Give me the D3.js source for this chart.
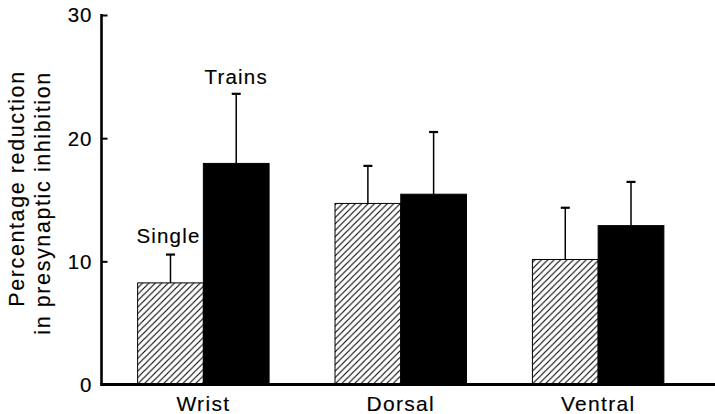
<!DOCTYPE html>
<html>
<head>
<meta charset="utf-8">
<script src="https://cdn.jsdelivr.net/npm/d3@7"></script>
<style>
  html, body { margin: 0; padding: 0; background: #fff; }
  svg { display: block; }
  text { font-family: "Liberation Sans", Arial, Helvetica, sans-serif; fill: #000; stroke: #000; stroke-width: 0.15px; }
</style>
</head>
<body>
<svg id="chart" width="715" height="414"></svg>
<script>
// Sites of conditioning stimulation
const categories = ["Wrist", "Dorsal", "Ventral"];
const seriesNames = ["Single", "Trains"];
// Mean percentage reduction and upper error (mean + s.e.m.)
const singleMeans = [8.25, 14.7, 10.15];
const singleErrTop = [10.55, 17.75, 14.35];
const trainsMeans = [17.95, 15.45, 12.9];
const trainsErrTop = [23.6, 20.5, 16.45];
const yTicks = [0, 10, 20, 30];

const svg = d3.select("#chart");
const W = 715, H = 414;
const plotLeft = 101.5, plotTop = 15, baseY = 384.5;

// Diagonal hatching for single-pulse bars
const defs = svg.append("defs");
const pat = defs.append("pattern")
  .attr("id", "hatch")
  .attr("patternUnits", "userSpaceOnUse")
  .attr("width", 6.4).attr("height", 6.4);
pat.append("path")
  .attr("d", "M-1.6,1.6 L1.6,-1.6 M0,6.4 L6.4,0 M4.8,8 L8,4.8")
  .attr("stroke", "#000").attr("stroke-width", 1.1);

const y = d3.scaleLinear().domain([0, 30]).range([baseY, plotTop]);

const x = d3.scaleBand()
  .domain(categories)
  .range([plotLeft, 700])
  .paddingInner(0.334)
  .paddingOuter(0.183);

const xs = d3.scaleBand()
  .domain(seriesNames)
  .range([0, x.bandwidth()]);

const rows = categories.map((c, i) => ({
  cat: c,
  vals: [
    { s: "Single", v: singleMeans[i], e: singleErrTop[i] },
    { s: "Trains", v: trainsMeans[i], e: trainsErrTop[i] }
  ]
}));

const groups = svg.append("g").selectAll("g")
  .data(rows).join("g")
  .attr("transform", d => `translate(${x(d.cat)},0)`);

// Error bars (upper half only)
groups.selectAll("line.err")
  .data(d => d.vals).join("line")
  .attr("class", "err")
  .attr("x1", d => xs(d.s) + xs.bandwidth() / 2)
  .attr("x2", d => xs(d.s) + xs.bandwidth() / 2)
  .attr("y1", d => y(d.v))
  .attr("y2", d => y(d.e))
  .attr("stroke", "#000").attr("stroke-width", 1.5);

groups.selectAll("line.cap")
  .data(d => d.vals).join("line")
  .attr("class", "cap")
  .attr("x1", d => xs(d.s) + xs.bandwidth() / 2 - 4.5)
  .attr("x2", d => xs(d.s) + xs.bandwidth() / 2 + 4.5)
  .attr("y1", d => y(d.e))
  .attr("y2", d => y(d.e))
  .attr("stroke", "#000").attr("stroke-width", 2.2);

// Bars
groups.selectAll("rect")
  .data(d => d.vals).join("rect")
  .attr("x", d => xs(d.s))
  .attr("width", xs.bandwidth())
  .attr("y", d => y(d.v))
  .attr("height", d => baseY - y(d.v))
  .attr("fill", d => d.s === "Single" ? "url(#hatch)" : "#000")
  .attr("stroke", "#000")
  .attr("stroke-width", 1);

// Series labels above the wrist bars
svg.append("text")
  .attr("x", x("Wrist") + xs("Single") + xs.bandwidth() / 2 - 2)
  .attr("y", 243)
  .attr("text-anchor", "middle")
  .attr("font-size", 20.5).attr("letter-spacing", 1.2)
  .text("Single");
svg.append("text")
  .attr("x", x("Wrist") + xs("Trains") + xs.bandwidth() / 2)
  .attr("y", 84)
  .attr("text-anchor", "middle")
  .attr("font-size", 20.5).attr("letter-spacing", 1.2)
  .text("Trains");

// Y axis with inward ticks
const yAxis = d3.axisRight(y).tickValues(yTicks).tickSize(6).tickFormat("");
const gy = svg.append("g").attr("transform", `translate(${plotLeft},0)`).call(yAxis);
gy.select(".domain").remove();
gy.selectAll(".tick line").attr("stroke", "#000").attr("stroke-width", 2);
svg.append("line")
  .attr("x1", plotLeft).attr("x2", plotLeft)
  .attr("y1", y(30) - 1).attr("y2", baseY)
  .attr("stroke", "#000").attr("stroke-width", 2.6);

svg.append("g").selectAll("text")
  .data(yTicks).join("text")
  .attr("x", plotLeft - 9)
  .attr("y", d => y(d))
  .attr("dy", "0.36em")
  .attr("text-anchor", "end")
  .attr("font-size", 20.5).attr("letter-spacing", 1)
  .text(d => d);

// Baseline across the full width
svg.append("line")
  .attr("x1", plotLeft - 1.3).attr("x2", W)
  .attr("y1", baseY).attr("y2", baseY)
  .attr("stroke", "#000").attr("stroke-width", 3);

// Category labels
svg.append("g").selectAll("text")
  .data(categories).join("text")
  .attr("x", d => x(d) + x.bandwidth() / 2)
  .attr("y", 410.5)
  .attr("text-anchor", "middle")
  .attr("font-size", 21).attr("letter-spacing", 1.3)
  .text(d => d);

// Y axis title, two lines
const yTitle = [
  { t: "Percentage reduction", cx: 23.5, cy: 188.5 },
  { t: "in presynaptic inhibition", cx: 49.5, cy: 203 }
];
svg.append("g").selectAll("text")
  .data(yTitle).join("text")
  .attr("transform", d => `translate(${d.cx},${d.cy}) rotate(-90)`)
  .attr("text-anchor", "middle")
  .attr("font-size", 21.5).attr("letter-spacing", 1.6)
  .text(d => d.t);
</script>
</body>
</html>
